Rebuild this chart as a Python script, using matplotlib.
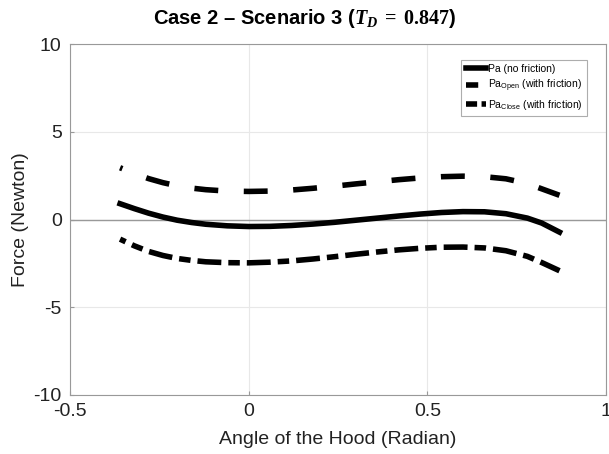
import matplotlib
matplotlib.use("Agg")
import matplotlib.pyplot as plt

# angle of the hood (rad)
angle = [-0.36, -0.32, -0.28, -0.24, -0.20, -0.16, -0.12, -0.06, 0.0, 0.06,
         0.12, 0.18, 0.24, 0.30, 0.36, 0.42, 0.48, 0.54, 0.60, 0.66,
         0.72, 0.78, 0.82, 0.87]

pa_nofric = [0.90, 0.62, 0.36, 0.14, -0.04, -0.17, -0.27, -0.36, -0.40, -0.39,
             -0.34, -0.26, -0.16, -0.04, 0.08, 0.20, 0.31, 0.40, 0.45, 0.44,
             0.33, 0.08, -0.20, -0.72]
pa_open = [2.95, 2.62, 2.33, 2.10, 1.92, 1.79, 1.70, 1.62, 1.60, 1.62,
           1.68, 1.78, 1.90, 2.03, 2.15, 2.27, 2.37, 2.44, 2.47, 2.44,
           2.32, 2.05, 1.75, 1.38]
pa_close = [-1.12, -1.50, -1.82, -2.05, -2.22, -2.33, -2.41, -2.46, -2.47, -2.43,
            -2.36, -2.25, -2.12, -1.98, -1.85, -1.73, -1.64, -1.58, -1.57, -1.62,
            -1.78, -2.10, -2.45, -2.92]

plt.rcParams['font.family'] = ['Liberation Sans', 'DejaVu Sans']
plt.rcParams['mathtext.fontset'] = 'custom'
plt.rcParams['mathtext.rm'] = 'Liberation Sans'
plt.rcParams['mathtext.bf'] = 'Liberation Serif:bold'
plt.rcParams['mathtext.bfit'] = 'Liberation Serif:italic:bold'

fig = plt.figure(figsize=(6.09, 4.54), dpi=100)
ax = fig.add_axes([0.115, 0.130, 0.880, 0.773])

ax.axhline(0, color='#999999', lw=1, zorder=1)
ax.plot(angle, pa_nofric, c='k', lw=4, label='Pa (no friction)')
ax.plot(angle, pa_open, c='k', lw=4, ls=(3.85, (4.3, 4.6)),
        label=r'Pa$_{\mathrm{Open}}$ (with friction)')
ax.plot(angle, pa_close, c='k', lw=4, ls=(3.2, (4.3, 1.26, 2.07, 1.26)),
        label=r'Pa$_{\mathrm{Close}}$ (with friction)')

ax.set_xlim(-0.5, 1)
ax.set_ylim(-10, 10)
ax.set_xticks([-0.5, 0, 0.5, 1])
ax.set_xticklabels(['-0.5', '0', '0.5', '1'])
ax.set_yticks([-10, -5, 0, 5, 10])
ax.set_yticklabels(['-10', '-5', '0', '5', '10'])
ax.grid(True, color='#e8e8e8', lw=0.8)
ax.set_axisbelow(True)
ax.tick_params(direction='in', length=3, color='#999999', labelsize=14, labelcolor='#222222')
ax.tick_params(axis='x', pad=6)
ax.tick_params(axis='y', pad=6)
for s in ax.spines.values():
    s.set_color('#999999')

ax.set_xlabel('Angle of the Hood (Radian)', fontsize=14, color='#222222', labelpad=8)
ax.set_ylabel('Force (Newton)', fontsize=14, color='#222222', labelpad=3)

fig.suptitle(r'Case 2 – Scenario 3 ($\mathbfit{T}_{\mathbfit{D}}\,\mathbf{=}\,\mathbf{0.847}$)',
             fontsize=14.5, fontweight='bold', x=0.5, y=0.985)

leg = ax.legend(loc='upper right', fontsize=7.5, handlelength=2.0, handletextpad=0.2,
                borderpad=0.4, labelspacing=0.35, frameon=True, fancybox=False,
                bbox_to_anchor=(0.975, 0.97))
leg.get_frame().set_edgecolor('#999999')
leg.get_frame().set_linewidth(0.8)
# legend handles without the start offset used on the curves
leg.get_lines()[1].set_linestyle((0, (2.2, 1.6)))
leg.get_lines()[2].set_linestyle((0, (2.0, 0.8, 0.8, 0.8)))

fig.savefig('out.png', dpi=100)
